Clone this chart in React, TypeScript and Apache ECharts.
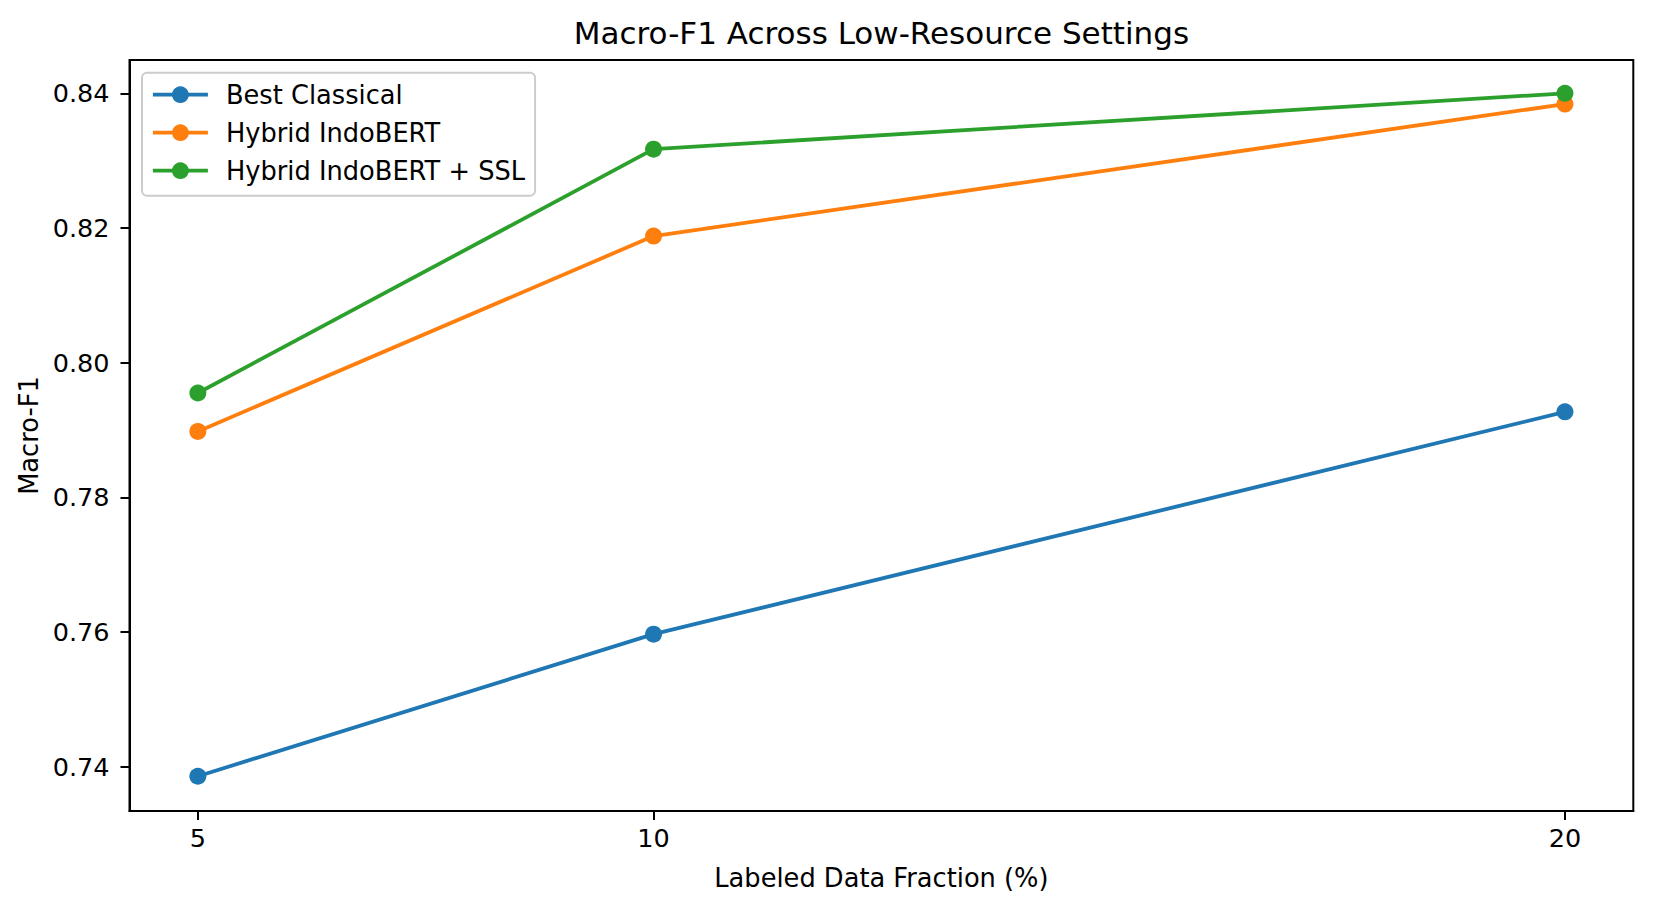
import React, { useEffect, useRef } from "react";
import * as echarts from "echarts";

const xValues = [5, 10, 20];
const seriesNames = ["Best Classical", "Hybrid IndoBERT", "Hybrid IndoBERT + SSL"];
const bestClassical = [0.7386, 0.7597, 0.7927];
const hybridIndoBERT = [0.7898, 0.8188, 0.8384];
const hybridSSL = [0.7955, 0.8317, 0.8400];
const colors = ["#1f77b4", "#ff7f0e", "#2ca02c"];
const xTicks = [5, 10, 20];
const yTicks = [0.74, 0.76, 0.78, 0.8, 0.82, 0.84];

const titleText = "Macro-F1 Across Low-Resource Settings";
const xName = "Labeled Data Fraction (%)";
const yName = "Macro-F1";

const FONT = "DejaVu Sans";

export default function App() {
  const ref = useRef<HTMLDivElement>(null);
  useEffect(() => {
    if (!ref.current) return;
    const chart = echarts.init(ref.current, undefined, { renderer: "svg" });
    const allSeries = [bestClassical, hybridIndoBERT, hybridSSL];
    chart.setOption({
      animation: false,
      backgroundColor: "#ffffff",
      textStyle: { fontFamily: FONT },
      grid: {
        left: 129.5,
        right: 20.7,
        top: 60,
        bottom: 98,
        show: true,
        borderColor: "#000",
        borderWidth: 2,
        backgroundColor: "transparent",
      },
      graphic: [
        {
          type: "text",
          x: 881.4,
          y: 33,
          style: {
            text: titleText,
            fontFamily: FONT,
            fontSize: 31,
            fill: "#000",
            textAlign: "center",
            textVerticalAlign: "middle",
          },
        },
      ],
      legend: {
        orient: "vertical",
        left: 142,
        top: 72.7,
        data: seriesNames,
        itemWidth: 55,
        itemHeight: 21,
        itemGap: 12,
        padding: [9, 10, 12, 9],
        backgroundColor: "rgba(255,255,255,0.8)",
        borderColor: "#cccccc",
        borderWidth: 2,
        borderRadius: 5,
        lineStyle: { width: 3.8 },
        textStyle: {
          fontFamily: FONT,
          fontSize: 25.7,
          lineHeight: 25,
          color: "#000",
          padding: [0, 0, 0, 13],
        },
      },
      xAxis: {
        type: "value",
        min: 4.25,
        max: 20.75,
        name: xName,
        nameLocation: "middle",
        nameGap: 54,
        nameTextStyle: { fontFamily: FONT, fontSize: 25.7, color: "#000" },
        axisLine: { show: true, lineStyle: { color: "#000", width: 2 } },
        axisTick: {
          show: true,
          customValues: xTicks,
          length: 9,
          lineStyle: { color: "#000", width: 2 },
        },
        axisLabel: {
          customValues: xTicks,
          fontFamily: FONT,
          fontSize: 25.5,
          color: "#000",
          margin: 14,
        },
        splitLine: { show: false },
      },
      yAxis: {
        type: "value",
        min: 0.73344,
        max: 0.84494,
        name: yName,
        nameLocation: "middle",
        nameGap: 82,
        nameTextStyle: { fontFamily: FONT, fontSize: 25.7, color: "#000" },
        axisLine: { show: true, lineStyle: { color: "#000", width: 2 } },
        axisTick: {
          show: true,
          customValues: yTicks,
          length: 9,
          lineStyle: { color: "#000", width: 2 },
        },
        axisLabel: {
          customValues: yTicks,
          formatter: (v: number) => v.toFixed(2),
          fontFamily: FONT,
          fontSize: 25.5,
          color: "#000",
          margin: 20,
        },
        splitLine: { show: false },
      },
      series: allSeries.map((vals, i) => ({
        name: seriesNames[i],
        type: "line",
        data: xValues.map((x, j) => [x, vals[j]]),
        symbol: "circle",
        symbolSize: 17,
        showSymbol: true,
        color: colors[i],
        itemStyle: { color: colors[i] },
        lineStyle: { color: colors[i], width: 3.8 },
        emphasis: { disabled: true },
        z: 2 + i,
      })),
    });
    return () => chart.dispose();
  }, []);
  return (
    <div
      ref={ref}
      style={{ position: "fixed", left: 0, top: 0, width: 1654, height: 909, background: "#fff" }}
    />
  );
}
